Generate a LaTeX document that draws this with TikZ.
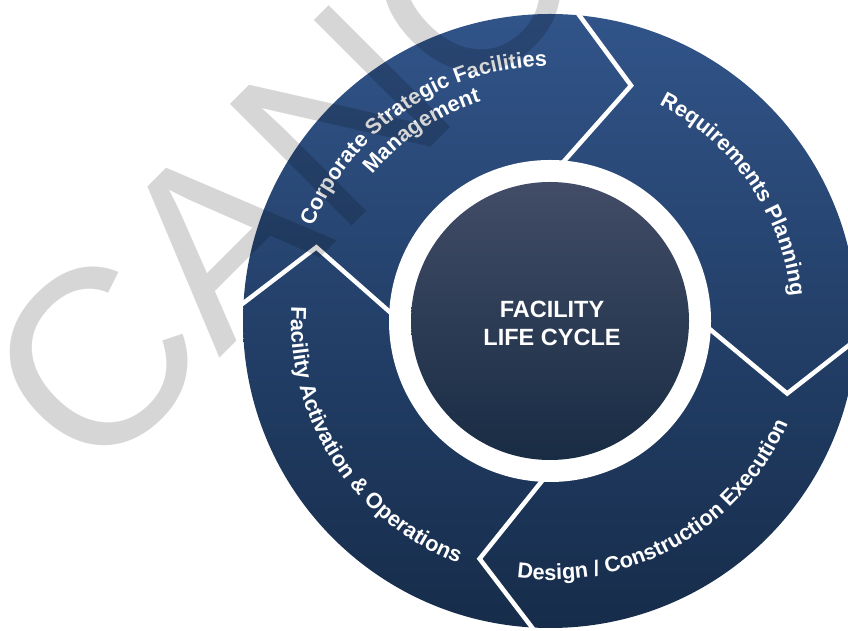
\documentclass[tikz,border=0pt]{standalone}
\usepackage{fontspec}
\setmainfont{Liberation Sans}
\definecolor{ringtop}{RGB}{49,84,137}
\definecolor{ringbot}{RGB}{22,44,74}
\definecolor{hubtop}{RGB}{66,76,102}
\definecolor{hubbot}{RGB}{24,44,68}
\font\ringprim="Liberation Sans/B" at 21.7pt
\newdimen\chw
\newdimen\arcpos
\newdimen\arctot
\newsavebox\chbox
% #1 name, #2 radius, #3 centre angle, #4 direction (1 = clockwise, tops out; -1 = anticlockwise, tops in), #5 characters
\newcommand\arclabel[5]{%
  \global\arctot=0pt
  \foreach \ch in {#5}{%
    \sbox\chbox{\ringprim\ch}%
    \global\advance\arctot by \wd\chbox
  }%
  \global\arcpos=0pt
  \foreach \ch [count=\ci] in {#5}{%
    \sbox\chbox{\ringprim\ch}%
    \chw=\wd\chbox
    \pgfmathsetmacro\arcoff{\the\arcpos+0.5*\the\chw-0.5*\the\arctot}%
    \pgfmathsetmacro\arcang{#3-(#4)*\arcoff/(#2)*180/pi}%
    \pgfmathsetmacro\arcrot{\arcang-(#4)*90}%
    \node[ringchar, rotate=\arcrot] (#1\ci) at ([shift={(\arcang:#2)}]O) {\ch};
    \global\advance\arcpos by \chw
  }%
}
\begin{document}
\begin{tikzpicture}[x=1pt,y=1pt,
  sepline/.style={white, line width=4.5pt, line join=miter, line cap=butt},
  ringchar/.style={text=white, font=\ringprim, anchor=base, inner sep=0pt, outer sep=0pt},
  hubtext/.style={text=white, font=\fontsize{23.5}{28}\selectfont\bfseries, align=center},
  watermark/.style={text=black, text opacity=0.16, font=\fontsize{250}{250}\selectfont, inner sep=0pt}
]
\useasboundingbox (0,0) rectangle (848,631);
\coordinate (O) at (550,310);
% ring
\shade[top color=ringtop, bottom color=ringbot] (O) circle[radius=307];
\fill[white] (O) circle[radius=161];
% separators (chevrons)
\coordinate (s1o) at ([shift={(88:330)}]O);
\coordinate (s1t) at ([shift={(71:249)}]O);
\coordinate (s1i) at ([shift={(88:150)}]O);
\coordinate (s2o) at ([shift={(0:330)}]O);
\coordinate (s2t) at ([shift={(-17:248)}]O);
\coordinate (s2i) at ([shift={(0:150)}]O);
\coordinate (s3o) at ([shift={(-90:330)}]O);
\coordinate (s3t) at ([shift={(-106.5:248)}]O);
\coordinate (s3i) at ([shift={(-90:150)}]O);
\coordinate (s4o) at ([shift={(180:330)}]O);
\coordinate (s4t) at ([shift={(162.5:245)}]O);
\coordinate (s4i) at ([shift={(180:150)}]O);
\draw[sepline] (s1o) -- (s1t) -- (s1i);
\draw[sepline] (s2o) -- (s2t) -- (s2i);
\draw[sepline] (s3o) -- (s3t) -- (s3i);
\draw[sepline] (s4o) -- (s4t) -- (s4i);
% hub
\shade[top color=hubtop, bottom color=hubbot] (O) circle[radius=139];
\node[hubtext] (hub) at (552,308) {FACILITY\\LIFE CYCLE};
% ring labels
\arclabel{csf}{255}{124.5}{1}{C,o,r,p,o,r,a,t,e,~,S,t,r,a,t,e,g,i,c,~,F,a,c,i,l,i,t,i,e,s}
\arclabel{mgt}{230}{124}{1}{M,a,n,a,g,e,m,e,n,t}
\arclabel{req}{242}{34.5}{1}{R,e,q,u,i,r,e,m,e,n,t,s,~,P,l,a,n,n,i,n,g}
\arclabel{dce}{259}{-60.3}{-1}{D,e,s,i,g,n,~,/,~,C,o,n,s,t,r,u,c,t,i,o,n,~,E,x,e,c,u,t,i,o,n}
\arclabel{fao}{259}{213}{-1}{F,a,c,i,l,i,t,y,~,A,c,t,i,v,a,t,i,o,n,~,\&,~,O,p,e,r,a,t,i,o,n,s}
% watermark
\node[watermark, rotate=45, anchor=base west] (wm) at (92,145) {CANCELLED};
\end{tikzpicture}
\end{document}
